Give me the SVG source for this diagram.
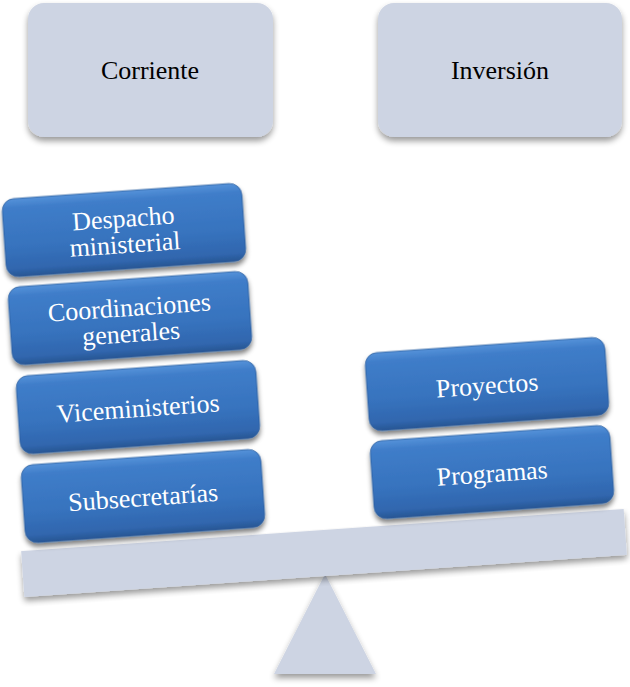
<svg xmlns="http://www.w3.org/2000/svg" width="630" height="687" viewBox="0 0 630 687" font-family="'Liberation Serif', 'DejaVu Serif', serif">
  <style>
    .cat { fill: #CDD4E3; filter: url(#shadow); }
    .cat-t { font-family: 'Liberation Serif', 'DejaVu Serif', serif; font-size: 26px; fill: #000; text-anchor: middle; }
    .item { fill: url(#blue); filter: url(#shadowDark); stroke: #2C5E9E; stroke-width: 0.8; }
    .item-t { font-family: 'Liberation Serif', 'DejaVu Serif', serif; font-size: 26px; fill: #FFFFFF; text-anchor: middle; }
    .base { fill: #CDD4E3; filter: url(#shadow); }
  </style>
  <defs>
    <linearGradient id="blue" x1="0" y1="0" x2="0" y2="1">
      <stop offset="0" stop-color="#5592D9"/>
      <stop offset="0.12" stop-color="#3F7DC9"/>
      <stop offset="0.6" stop-color="#3773BE"/>
      <stop offset="0.9" stop-color="#3066AE"/>
      <stop offset="1" stop-color="#275693"/>
    </linearGradient>
    <filter id="shadow" x="-10%" y="-10%" width="120%" height="130%">
      <feGaussianBlur in="SourceAlpha" stdDeviation="3"/>
      <feOffset dx="0" dy="4" result="b"/>
      <feComponentTransfer><feFuncA type="linear" slope="0.4"/></feComponentTransfer>
      <feMerge><feMergeNode/><feMergeNode in="SourceGraphic"/></feMerge>
    </filter>
    <filter id="shadowDark" x="-10%" y="-10%" width="120%" height="135%">
      <feGaussianBlur in="SourceAlpha" stdDeviation="2.5"/>
      <feOffset dx="0" dy="4" result="b"/>
      <feComponentTransfer><feFuncA type="linear" slope="0.5"/></feComponentTransfer>
      <feMerge><feMergeNode/><feMergeNode in="SourceGraphic"/></feMerge>
    </filter>
  </defs>

  <g id="corriente">
    <rect class="cat" x="28" y="3" width="245" height="134" rx="16"/>
    <text class="cat-t" x="150" y="79">Corriente</text>
  </g>
  <g id="inversion">
    <rect class="cat" x="378" y="3" width="244" height="134" rx="16"/>
    <text class="cat-t" x="500" y="79">Inversión</text>
  </g>

  <g id="fulcrum">
    <polygon class="base" points="325,574 376,674 274,674"/>
  </g>
  <g id="beam" transform="translate(324,553) rotate(-4)">
    <rect class="base" x="-302" y="-23" width="604" height="46"/>
  </g>

  <g id="subsecretarias" transform="translate(143,496) rotate(-4)">
    <rect class="item" x="-120" y="-39" width="240" height="78" rx="12"/>
    <text class="item-t" x="0" y="10">Subsecretarías</text>
  </g>
  <g id="viceministerios" transform="translate(138,407) rotate(-4)">
    <rect class="item" x="-120" y="-39" width="240" height="78" rx="12"/>
    <text class="item-t" x="0" y="10">Viceministerios</text>
  </g>
  <g id="coordinaciones" transform="translate(130,318) rotate(-4)">
    <rect class="item" x="-120" y="-39" width="240" height="78" rx="12"/>
    <text class="item-t" x="0" y="-2">Coordinaciones</text>
    <text class="item-t" x="0" y="24">generales</text>
  </g>
  <g id="despacho" transform="translate(124,230) rotate(-4)">
    <rect class="item" x="-120" y="-39" width="240" height="78" rx="12"/>
    <text class="item-t" x="0" y="-3">Despacho</text>
    <text class="item-t" x="0" y="23">ministerial</text>
  </g>

  <g id="programas" transform="translate(492,472) rotate(-4)">
    <rect class="item" x="-120" y="-39" width="240" height="78" rx="12"/>
    <text class="item-t" x="0" y="10">Programas</text>
  </g>
  <g id="proyectos" transform="translate(487,384) rotate(-4)">
    <rect class="item" x="-120" y="-39" width="240" height="78" rx="12"/>
    <text class="item-t" x="0" y="10">Proyectos</text>
  </g>

  <g id="connectors"></g>
</svg>
